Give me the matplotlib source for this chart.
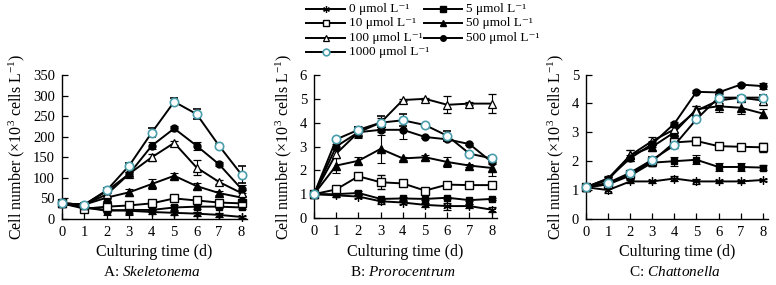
import matplotlib
matplotlib.use("Agg")
import matplotlib.pyplot as plt
from matplotlib.lines import Line2D

plt.rcParams['font.family'] = ['Liberation Serif', 'DejaVu Serif']
plt.rcParams['mathtext.fontset'] = 'custom'
plt.rcParams['mathtext.rm'] = 'Liberation Serif'
plt.rcParams['mathtext.it'] = 'Liberation Serif:italic'

days = [0, 1, 2, 3, 4, 5, 6, 7, 8]
concentrations = ['0', '5', '10', '50', '100', '500', '1000']

# Panel A: Skeletonema (x10^3 cells/L)
skel = {
    '0':    [38, 28, 22, 20, 17, 15, 13, 10, 5],
    '5':    [38, 28, 20, 22, 22, 28, 30, 30, 28],
    '10':   [38, 25, 30, 33, 38, 50, 45, 40, 38],
    '50':   [38, 35, 52, 65, 85, 105, 80, 63, 52],
    '100':  [38, 35, 60, 110, 150, 185, 125, 90, 63],
    '500':  [38, 35, 68, 110, 178, 220, 178, 133, 73],
    '1000': [38, 35, 70, 130, 210, 285, 255, 178, 108],
}
skel_err = {
    '0':    [2, 3, 4, 8, 6, 5, 5, 4, 3],
    '5':    [2, 3, 10, 12, 6, 6, 6, 4, 4],
    '10':   [2, 3, 4, 4, 4, 3, 4, 3, 4],
    '50':   [2, 3, 4, 8, 12, 8, 8, 4, 5],
    '100':  [2, 3, 4, 5, 8, 5, 18, 5, 8],
    '500':  [2, 3, 4, 5, 8, 6, 10, 5, 10],
    '1000': [2, 3, 5, 5, 10, 8, 12, 5, 20],
}

# Panel B: Prorocentrum
proro = {
    '0':    [1.0, 0.95, 0.9, 0.7, 0.65, 0.55, 0.5, 0.5, 0.35],
    '5':    [1.0, 1.0, 1.05, 0.8, 0.82, 0.8, 0.85, 0.75, 0.8],
    '10':   [1.0, 1.2, 1.75, 1.5, 1.45, 1.15, 1.4, 1.38, 1.38],
    '50':   [1.0, 2.2, 2.4, 2.9, 2.5, 2.55, 2.35, 2.2, 2.1],
    '100':  [1.0, 2.7, 3.6, 4.0, 4.95, 5.0, 4.75, 4.8, 4.8],
    '500':  [1.0, 3.0, 3.6, 3.7, 3.7, 3.4, 3.3, 3.1, 2.35],
    '1000': [1.0, 3.3, 3.7, 4.0, 4.1, 3.9, 3.45, 2.7, 2.5],
}
proro_err = {
    '0':    [0.05, 0.05, 0.05, 0.1, 0.05, 0.1, 0.15, 0.1, 0.1],
    '5':    [0.05, 0.05, 0.1, 0.05, 0.05, 0.05, 0.05, 0.05, 0.05],
    '10':   [0.05, 0.1, 0.15, 0.3, 0.05, 0.05, 0.1, 0.05, 0.1],
    '50':   [0.05, 0.3, 0.15, 0.6, 0.05, 0.1, 0.2, 0.05, 0.35],
    '100':  [0.05, 0.2, 0.2, 0.2, 0.05, 0.05, 0.35, 0.05, 0.4],
    '500':  [0.05, 0.1, 0.25, 0.1, 0.4, 0.05, 0.05, 0.05, 0.1],
    '1000': [0.05, 0.05, 0.1, 0.3, 0.25, 0.05, 0.2, 0.05, 0.1],
}

# Panel C: Chattonella
chatt = {
    '0':    [1.1, 1.0, 1.3, 1.3, 1.4, 1.3, 1.3, 1.3, 1.35],
    '5':    [1.1, 1.2, 1.5, 1.95, 2.0, 2.05, 1.8, 1.8, 1.78],
    '10':   [1.1, 1.2, 1.55, 2.0, 2.65, 2.7, 2.52, 2.5, 2.48],
    '50':   [1.1, 1.35, 2.2, 2.5, 3.0, 3.8, 3.9, 3.85, 3.65],
    '100':  [1.1, 1.4, 2.2, 2.7, 3.1, 3.75, 4.1, 4.2, 4.1],
    '500':  [1.1, 1.4, 2.1, 2.6, 3.3, 4.4, 4.38, 4.65, 4.6],
    '1000': [1.1, 1.25, 1.6, 2.05, 2.55, 3.45, 4.2, 4.2, 4.2],
}
chatt_err = {
    '0':    [0.05, 0.1, 0.05, 0.05, 0.1, 0.1, 0.05, 0.05, 0.05],
    '5':    [0.05, 0.05, 0.1, 0.1, 0.15, 0.15, 0.15, 0.15, 0.1],
    '10':   [0.05, 0.05, 0.1, 0.15, 0.2, 0.15, 0.05, 0.05, 0.15],
    '50':   [0.05, 0.1, 0.2, 0.15, 0.2, 0.1, 0.2, 0.2, 0.15],
    '100':  [0.05, 0.1, 0.2, 0.15, 0.1, 0.15, 0.1, 0.1, 0.15],
    '500':  [0.05, 0.05, 0.1, 0.1, 0.05, 0.05, 0.05, 0.05, 0.1],
    '1000': [0.05, 0.05, 0.05, 0.1, 0.1, 0.1, 0.1, 0.05, 0.1],
}

TEAL = '#4a9eac'
styles = {
    '0':    dict(marker=(6, 2, 0), mfc='black', mec='black', ms=6, mew=0.9),
    '5':    dict(marker='s', mfc='black', mec='black', ms=5),
    '10':   dict(marker='s', mfc='white', mec='black', ms=5.5, mew=1.0),
    '50':   dict(marker='^', mfc='black', mec='black', ms=5.5),
    '100':  dict(marker='^', mfc='white', mec='black', ms=5.5, mew=0.9),
    '500':  dict(marker='o', mfc='black', mec='black', ms=5),
    '1000': dict(marker='o', mfc='white', mec=TEAL, ms=6, mew=1.2),
}
draw_order = ['0', '5', '10', '50', '100', '500', '1000']

W, H = 776, 285
fig = plt.figure(figsize=(W / 100, H / 100), dpi=100)

panels = [
    # left px, x8 px, y0 px, ytop px, ymax, yticks, data, err, letter, genus
    (62, 241.5, 219, 75, 350, list(range(0, 351, 50)), skel, skel_err, 'A', 'Skeletonema'),
    (314, 491.7, 218, 75, 6, list(range(0, 7)), proro, proro_err, 'B', 'Prorocentrum'),
    (586, 762.7, 219, 74.5, 5, list(range(0, 6)), chatt, chatt_err, 'C', 'Chattonella'),
]
XMAX = 8.25
for (lpx, x8px, y0px, ytpx, ymax, yticks, data, err, letter, genus) in panels:
    unit = (x8px - lpx) / 8.0
    wpx = unit * XMAX
    ax = fig.add_axes([lpx / W, 1 - y0px / H, wpx / W, (y0px - ytpx) / H])
    for c in draw_order:
        st = styles[c]
        ax.errorbar(days, data[c], yerr=err[c], color='black', lw=1.4,
                    elinewidth=0.8, capsize=3, capthick=0.8, clip_on=False,
                    zorder=3, **st)
    ax.set_xlim(0, XMAX)
    ax.set_ylim(0, ymax)
    ax.set_xticks(days)
    ax.set_yticks(yticks)
    for s in ['top', 'right']:
        ax.spines[s].set_visible(False)
    ax.spines['left'].set_linewidth(1.0)
    ax.spines['bottom'].set_linewidth(1.0)
    ax.tick_params(direction='in', length=4, width=0.9, labelsize=10.5, pad=5)
    ax.set_ylabel('Cell number (×10$^3$ cells L$^{-1}$)', fontsize=11.5, labelpad=4)
    ax.set_xlabel('Culturing time (d)', fontsize=11.5, labelpad=4)
    cx = (lpx + x8px) / 2 / W
    fig.text(cx, 1 - 272 / H, letter + ': $\\it{' + genus + '}$', ha='center',
             va='center', fontsize=11)

# Legend
leg_labels = {c: c + ' μmol L⁻¹' for c in concentrations}
col1 = ['0', '10', '100', '1000']
col2 = ['5', '50', '500']
rows_y = [9, 23, 37.5, 52]
def legend_entry(c, xl, xr, xt, ypx):
    y = 1 - ypx / H
    st = dict(styles[c])
    st['ms'] = st['ms'] * 0.8
    fig.add_artist(Line2D([xl / W, xr / W], [y, y], color='black', lw=1.4,
                          transform=fig.transFigure))
    fig.add_artist(Line2D([(xl + xr) / 2 / W], [y], color='black', lw=0,
                          transform=fig.transFigure, **st))
    fig.text(xt / W, y, leg_labels[c], ha='left', va='center', fontsize=9.5)

for c, yp in zip(col1, rows_y):
    legend_entry(c, 306, 345, 349, yp)
for c, yp in zip(col2, rows_y):
    legend_entry(c, 424, 462, 466, yp)

fig.savefig('out.png', dpi=100)
